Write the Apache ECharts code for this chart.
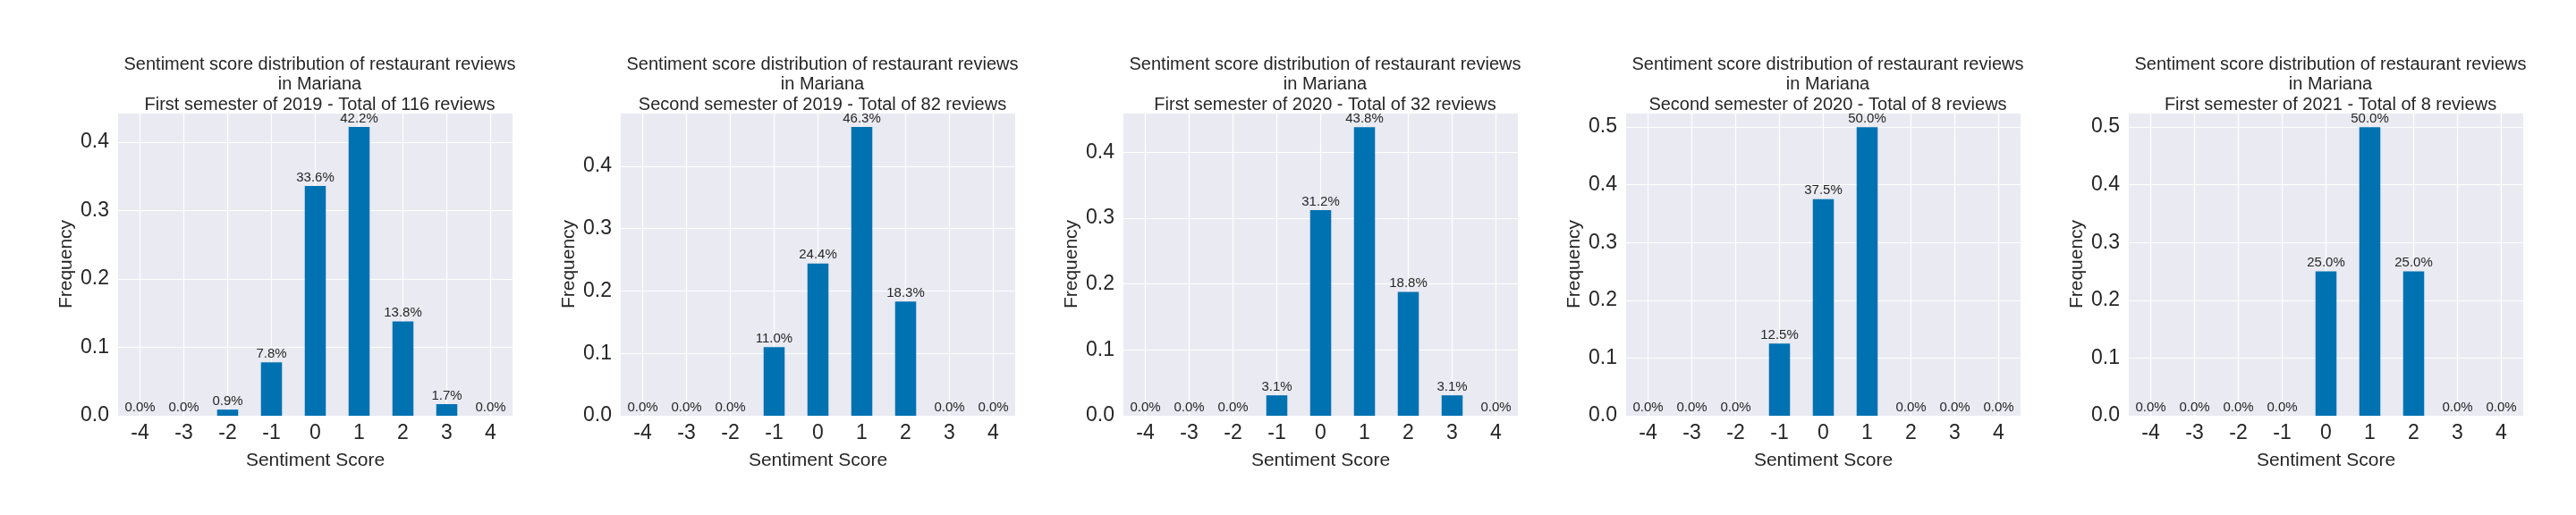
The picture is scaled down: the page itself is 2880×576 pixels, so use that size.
<!DOCTYPE html>
<html><head><meta charset="utf-8">
<script src="https://cdn.jsdelivr.net/npm/echarts@6/dist/echarts.min.js"></script>
<style>html,body{margin:0;padding:0;background:#fff}#c{width:2880px;height:576px}</style>
</head><body><div id="c"></div>
<script>
const categories = ['-4','-3','-2','-1','0','1','2','3','4'];
const titles = [
  'Sentiment score distribution of restaurant reviews\nin Mariana\nFirst semester of 2019 - Total of 116 reviews',
  'Sentiment score distribution of restaurant reviews\nin Mariana\nSecond semester of 2019 - Total of 82 reviews',
  'Sentiment score distribution of restaurant reviews\nin Mariana\nFirst semester of 2020 - Total of 32 reviews',
  'Sentiment score distribution of restaurant reviews\nin Mariana\nSecond semester of 2020 - Total of 8 reviews',
  'Sentiment score distribution of restaurant reviews\nin Mariana\nFirst semester of 2021 - Total of 8 reviews'
];
const s2019a = [0, 0, 0.009, 0.078, 0.336, 0.422, 0.138, 0.017, 0];
const s2019b = [0, 0, 0, 0.110, 0.244, 0.463, 0.183, 0, 0];
const s2020a = [0, 0, 0, 0.031, 0.312, 0.438, 0.188, 0.031, 0];
const s2020b = [0, 0, 0, 0.125, 0.375, 0.5, 0, 0, 0];
const s2021a = [0, 0, 0, 0, 0.25, 0.5, 0.25, 0, 0];
const yMax = [0.443, 0.486, 0.46, 0.525, 0.525];
const series = [s2019a, s2019b, s2020a, s2020b, s2021a];

const font = 'Liberation Sans, Arial, sans-serif';
const txt = '#262626';
const opt = {animation:false, title:[], grid:[], xAxis:[], yAxis:[], series:[]};
series.forEach((d, i) => {
  const left = 132 + 562 * i;
  opt.title.push({text: titles[i], left: left + 220.5, top: 56, textAlign: 'center',
    textStyle: {fontFamily: font, fontSize: 20, fontWeight: 'normal', color: txt, lineHeight: 22.5}});
  opt.grid.push({left: left, top: 126, width: 441, height: 339, show: true, backgroundColor: '#EAEAF2', borderWidth: 0});
  opt.xAxis.push({type: 'category', gridIndex: i, data: categories,
    name: 'Sentiment Score', nameLocation: 'middle', nameGap: 40,
    nameTextStyle: {fontFamily: font, fontSize: 21, color: txt},
    axisLine: {show: false}, axisTick: {show: false, alignWithLabel: true},
    axisLabel: {fontFamily: font, fontSize: 23, color: txt, margin: 8},
    splitLine: {show: true, alignWithLabel: true, lineStyle: {color: '#fff', width: 1.2}}});
  opt.yAxis.push({type: 'value', gridIndex: i, min: 0, max: yMax[i], interval: 0.1,
    name: 'Frequency', nameLocation: 'middle', nameGap: 47,
    nameTextStyle: {fontFamily: font, fontSize: 21, color: txt},
    axisLine: {show: false}, axisTick: {show: false},
    axisLabel: {fontFamily: font, fontSize: 23, color: txt, margin: 10, showMaxLabel: false,
      formatter: v => v.toFixed(1)},
    splitLine: {show: true, lineStyle: {color: '#fff', width: 1.2}}});
  opt.series.push({type: 'bar', xAxisIndex: i, yAxisIndex: i, data: d, barWidth: '48%',
    itemStyle: {color: '#0072B2'},
    label: {show: true, position: 'top', distance: 2, fontFamily: font, fontSize: 15, color: txt,
      formatter: p => (p.value * 100).toFixed(1) + '%'}});
});
const ch = echarts.init(document.getElementById('c'));
ch.setOption(opt);
</script></body></html>
